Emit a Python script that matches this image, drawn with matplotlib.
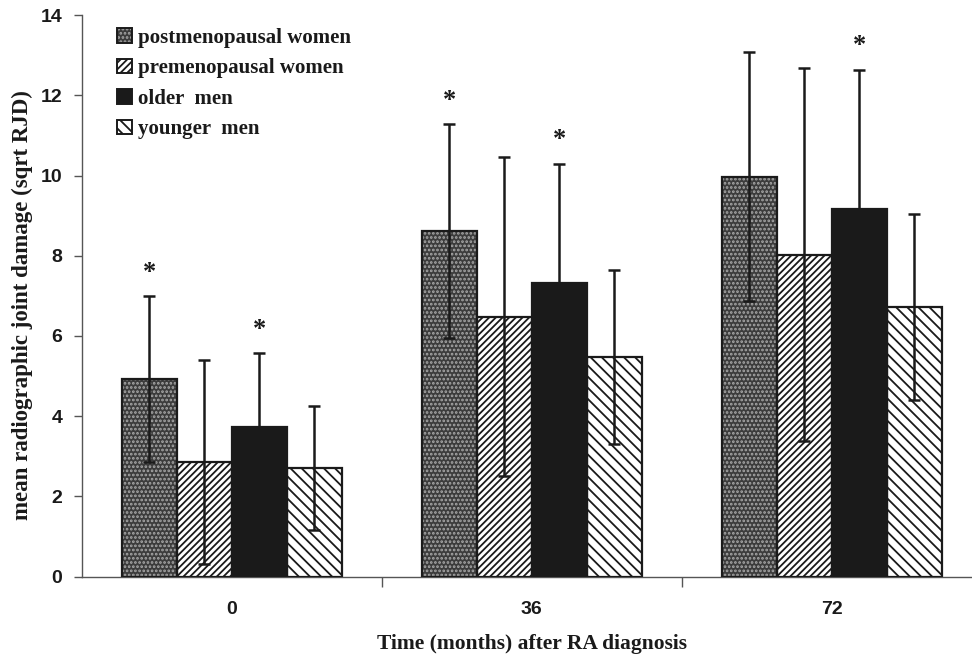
import matplotlib
matplotlib.use("Agg")
import matplotlib.pyplot as plt
import numpy as np
from matplotlib.patches import Patch
from matplotlib.legend_handler import HandlerTuple

# mean sqrt(RJD) and SD per group at each follow-up time
times = ["0", "36", "72"]
groups = ["postmenopausal women", "premenopausal women", "older  men", "younger  men"]
means = [
    [4.92, 8.62, 9.97],   # postmenopausal women
    [2.85, 6.48, 8.02],   # premenopausal women
    [3.74, 7.31, 9.16],   # older men
    [2.70, 5.48, 6.71],   # younger men
]
sds = [
    [2.07, 2.66, 3.10],
    [2.55, 3.97, 4.65],
    [1.83, 2.98, 3.47],
    [1.55, 2.17, 2.32],
]
# significance markers: (group index, time index)
stars = [(0, 0), (2, 0), (0, 1), (2, 1), (2, 2)]

serif = "Liberation Serif"
sans = "Liberation Sans"

plt.rcParams["hatch.linewidth"] = 1.3

# fill, hatch, hatch colour
styles = [
    ("#3c3c3c", "....", "#a8a8a8"),
    ("white", "/////", "#1a1a1a"),
    ("#1a1a1a", None, "#1a1a1a"),
    ("white", "\\\\\\", "#1a1a1a"),
]

fig = plt.figure(figsize=(9.72, 6.59), dpi=100)
ax = fig.add_axes([81.7 / 972, 82.5 / 659, 890.3 / 972, 561.4 / 659])

x = np.arange(len(times))
w = 55 / 300
handles = []
for i, g in enumerate(groups):
    fc, hatch, hc = styles[i]
    pos = x + (i - 1.5) * w
    ax.bar(pos, means[i], w, color=fc, hatch=hatch, edgecolor=hc,
           linewidth=0, zorder=2)
    ax.bar(pos, means[i], w, fill=False, edgecolor="#1a1a1a",
           linewidth=1.6, zorder=3)
    ax.errorbar(pos, means[i], yerr=sds[i], fmt="none", ecolor="#1a1a1a",
                elinewidth=1.8, capsize=4.3, capthick=1.8, zorder=4)
    handles.append((Patch(facecolor=fc, hatch=hatch, edgecolor=hc, linewidth=0),
                    Patch(fill=False, edgecolor="#1a1a1a", linewidth=1.4)))

for gi, ti in stars:
    top = means[gi][ti] + sds[gi][ti]
    ax.text(x[ti] + (gi - 1.5) * w, top + 0.6, "*", ha="center", va="center",
            fontsize=19, fontweight="bold", family=serif, color="#1a1a1a")

ax.set_xlim(-0.5, 2.5 - 9.7 / 300)
ax.set_ylim(0, 14)
ax.set_yticks(range(0, 15, 2))
ax.set_xticks([0.5, 1.5])
ax.set_xticklabels([])
ax.set_xticks(x, minor=True)
ax.set_xticklabels(times, minor=True)
ax.tick_params(axis="x", which="minor", length=0, pad=18)
ax.tick_params(axis="x", which="major", length=7, width=1, color="#555555")
ax.tick_params(axis="y", length=6, width=1, color="#555555", pad=8)
for lab in ax.get_yticklabels() + ax.get_xticklabels(minor=True):
    lab.set_fontfamily(sans)
    lab.set_fontweight("bold")
    lab.set_fontsize(14)
    lab.set_color("#1a1a1a")

for s in ["top", "right"]:
    ax.spines[s].set_visible(False)
for s in ["left", "bottom"]:
    ax.spines[s].set_color("#555555")
    ax.spines[s].set_linewidth(1)

fig.text(22 / 972, 1 - 305 / 659, "mean radiographic joint damage (sqrt RJD)",
         rotation=90, ha="center", va="center", fontsize=16.5,
         fontweight="bold", family=serif, color="#1a1a1a")
fig.text(531.7 / 972, 1 - 644 / 659, "Time (months) after RA diagnosis",
         ha="center", va="center", fontsize=15.5, fontweight="bold",
         family=serif, color="#1a1a1a")

leg = ax.legend(handles, groups, handler_map={tuple: HandlerTuple(ndivide=1, pad=0)},
                loc="upper left", bbox_to_anchor=(117 / 972, 1 - 28 / 659),
                bbox_transform=fig.transFigure, frameon=False, borderpad=0,
                borderaxespad=0, handlelength=0.7, handleheight=0.7,
                handletextpad=0.3, labelspacing=0.5,
                prop={"family": serif, "weight": "bold", "size": 15})
for t in leg.get_texts():
    t.set_color("#1a1a1a")

fig.savefig("out.png", dpi=100)
